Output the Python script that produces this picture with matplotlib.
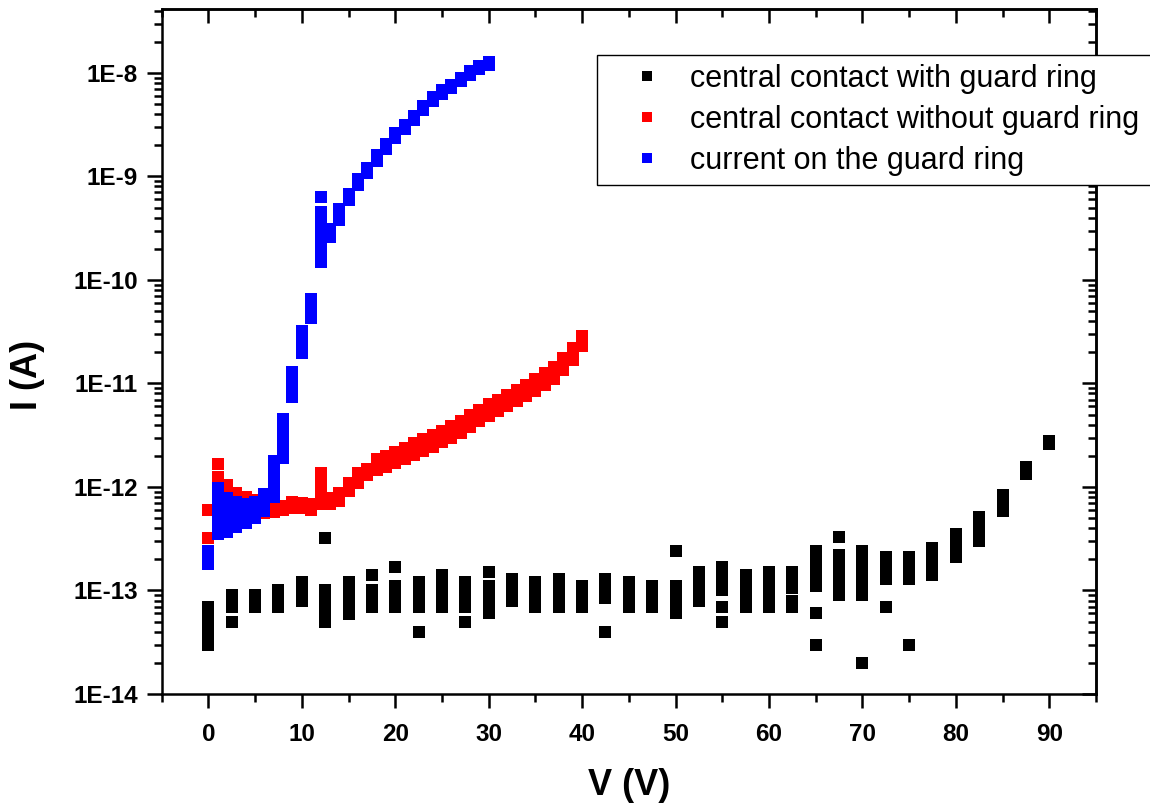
import numpy as np
import matplotlib
matplotlib.use("Agg")
import matplotlib.pyplot as plt
from matplotlib.ticker import FixedLocator, FuncFormatter, LogLocator, NullFormatter

# ---------------- data ----------------
black_v = [0, 2.5, 5, 7.5, 10, 12.5, 15, 17.5, 20, 22.5, 25, 27.5, 30, 32.5, 35, 37.5,
           40, 42.5, 45, 47.5, 50, 52.5, 55, 57.5, 60, 62.5, 65, 67.5, 70, 72.5, 75,
           77.5, 80, 82.5, 85, 87.5, 90]
black_i = [
    [7.0e-14, 6.0e-14, 5.0e-14, 4.2e-14, 3.5e-14, 3.0e-14],
    [9.0e-14, 8.0e-14, 7.0e-14, 5.0e-14],
    [9.0e-14, 8.0e-14, 7.0e-14],
    [1.0e-13, 8.5e-14, 7.0e-14],
    [1.2e-13, 1.05e-13, 9.0e-14, 8.0e-14],
    [3.2e-13, 1.0e-13, 8.5e-14, 7.0e-14, 6.0e-14, 5.0e-14],
    [1.2e-13, 1.0e-13, 8.5e-14, 7.0e-14, 5.9e-14],
    [1.4e-13, 1.0e-13, 8.5e-14, 7.0e-14],
    [1.7e-13, 1.1e-13, 9.0e-14, 7.0e-14],
    [1.2e-13, 1.0e-13, 8.5e-14, 7.0e-14, 4.0e-14],
    [1.4e-13, 1.15e-13, 9.5e-14, 8.0e-14, 7.0e-14],
    [1.2e-13, 1.0e-13, 8.5e-14, 7.0e-14, 5.0e-14],
    [1.5e-13, 1.1e-13, 9.0e-14, 7.5e-14, 6.0e-14],
    [1.3e-13, 1.1e-13, 9.2e-14, 8.0e-14],
    [1.2e-13, 1.0e-13, 8.5e-14, 7.0e-14],
    [1.3e-13, 1.05e-13, 8.5e-14, 7.0e-14],
    [1.1e-13, 9.5e-14, 8.0e-14, 7.0e-14],
    [1.3e-13, 1.1e-13, 9.5e-14, 8.5e-14, 4.0e-14],
    [1.2e-13, 1.0e-13, 8.5e-14, 7.0e-14],
    [1.1e-13, 9.5e-14, 8.0e-14, 7.0e-14],
    [2.4e-13, 1.1e-13, 9.0e-14, 7.5e-14, 6.0e-14],
    [1.5e-13, 1.25e-13, 1.05e-13, 9.0e-14, 8.0e-14],
    [1.7e-13, 1.4e-13, 1.15e-13, 1.0e-13, 7.0e-14, 5.0e-14],
    [1.4e-13, 1.15e-13, 9.5e-14, 8.0e-14, 7.0e-14],
    [1.5e-13, 1.25e-13, 1.0e-13, 8.5e-14, 7.0e-14],
    [1.5e-13, 1.25e-13, 1.05e-13, 8.0e-14, 7.0e-14],
    [2.4e-13, 2.0e-13, 1.65e-13, 1.35e-13, 1.1e-13, 6.0e-14, 3.0e-14],
    [3.3e-13, 2.2e-13, 1.8e-13, 1.5e-13, 1.25e-13, 1.05e-13, 9.0e-14],
    [2.4e-13, 2.0e-13, 1.65e-13, 1.35e-13, 1.1e-13, 9.0e-14, 2.0e-14],
    [2.1e-13, 1.8e-13, 1.5e-13, 1.3e-13, 7.0e-14],
    [2.1e-13, 1.8e-13, 1.5e-13, 1.3e-13, 3.0e-14],
    [2.6e-13, 2.1e-13, 1.7e-13, 1.4e-13],
    [3.5e-13, 2.9e-13, 2.5e-13, 2.1e-13],
    [5.1e-13, 4.3e-13, 3.6e-13, 3.0e-13],
    [8.3e-13, 7.0e-13, 5.9e-13],
    [1.55e-12, 1.32e-12],
    [2.8e-12, 2.6e-12],
]

red_v = list(range(0, 41))
red_i = [
    [6.0e-13, 3.2e-13],
    [1.65e-12, 1.25e-12, 7.5e-13],
    [1.05e-12, 8.5e-13],
    [8.7e-13, 7.5e-13],
    [8.0e-13, 7.0e-13],
    [7.5e-13, 6.5e-13],
    [6.5e-13, 5.6e-13],
    [6.3e-13, 5.7e-13],
    [6.6e-13, 6.0e-13],
    [7.2e-13, 6.3e-13],
    [7.0e-13, 6.2e-13],
    [6.8e-13, 6.0e-13],
    [1.35e-12, 1.1e-12, 9.0e-13, 7.5e-13, 6.8e-13],
    [7.9e-13, 6.9e-13],
    [8.7e-13, 7.3e-13],
    [1.1e-12, 9.1e-13],
    [1.35e-12, 1.1e-12],
    [1.5e-12, 1.3e-12],
    [1.85e-12, 1.45e-12],
    [2.0e-12, 1.55e-12],
    [2.2e-12, 1.7e-12],
    [2.4e-12, 1.85e-12],
    [2.65e-12, 2.05e-12],
    [2.9e-12, 2.25e-12],
    [3.2e-12, 2.45e-12],
    [3.5e-12, 2.7e-12],
    [3.9e-12, 3.0e-12],
    [4.3e-12, 3.3e-12],
    [5.0e-12, 3.8e-12],
    [5.6e-12, 4.3e-12],
    [6.3e-12, 4.8e-12],
    [7.0e-12, 5.4e-12],
    [7.8e-12, 6.0e-12],
    [8.7e-12, 6.7e-12],
    [9.7e-12, 7.5e-12],
    [1.1e-11, 8.5e-12],
    [1.25e-11, 9.6e-12],
    [1.45e-11, 1.1e-11],
    [1.75e-11, 1.35e-11],
    [2.2e-11, 1.7e-11],
    [2.9e-11, 2.3e-11],
]

blue_v = list(range(0, 31))
blue_i = [
    [2.4e-13, 2.0e-13, 1.8e-13],
    [9.8e-13, 8.2e-13, 6.8e-13, 5.6e-13, 4.7e-13, 3.9e-13, 3.5e-13],
    [7.9e-13, 6.6e-13, 5.5e-13, 4.6e-13, 3.9e-13, 3.7e-13],
    [7.1e-13, 5.9e-13, 5.0e-13, 4.1e-13],
    [6.9e-13, 5.8e-13, 4.9e-13, 4.5e-13],
    [7.1e-13, 6.0e-13, 5.0e-13],
    [8.5e-13, 7.2e-13, 6.0e-13, 5.8e-13],
    [1.8e-12, 1.5e-12, 1.25e-12, 1.05e-12, 8.8e-13, 8.0e-13],
    [4.5e-12, 3.7e-12, 3.1e-12, 2.6e-12, 2.2e-12, 1.9e-12],
    [1.3e-11, 1.08e-11, 9.0e-12, 7.4e-12],
    [3.2e-11, 2.65e-11, 2.2e-11, 1.95e-11],
    [6.5e-11, 5.5e-11, 4.6e-11, 4.3e-11],
    [6.3e-10, 4.5e-10, 3.7e-10, 3.1e-10, 2.6e-10, 2.15e-10, 1.8e-10, 1.5e-10],
    [3.1e-10, 2.6e-10],
    [4.8e-10, 3.8e-10],
    [6.8e-10, 5.9e-10],
    [9.5e-10, 8.3e-10],
    [1.22e-9, 1.08e-9],
    [1.6e-9, 1.4e-9],
    [2.05e-9, 1.85e-9],
    [2.6e-9, 2.35e-9],
    [3.15e-9, 2.85e-9],
    [3.85e-9, 3.5e-9],
    [4.8e-9, 4.35e-9],
    [5.8e-9, 5.3e-9],
    [6.9e-9, 6.3e-9],
    [7.7e-9, 7.1e-9],
    [9.0e-9, 8.3e-9],
    [1.04e-8, 9.6e-9],
    [1.16e-8, 1.08e-8],
    [1.27e-8, 1.19e-8],
]

series_labels = ["central contact with guard ring",
                 "central contact without guard ring",
                 "current on the guard ring"]
series_colors = ["#000000", "#ff0000", "#0000ff"]
x_ticks = [0, 10, 20, 30, 40, 50, 60, 70, 80, 90]

# ---------------- plot ----------------
plt.rcParams["font.family"] = ["Liberation Sans", "DejaVu Sans"]

fig = plt.figure(figsize=(11.5, 8.08), dpi=100)
ax = fig.add_axes([0.1406, 0.1411, 0.8124, 0.8478])


def flatten(vs, ii):
    xs, ys = [], []
    for v, lst in zip(vs, ii):
        for val in lst:
            xs.append(v)
            ys.append(val)
    return xs, ys


for (vs, ii), lab, col in zip([(black_v, black_i), (red_v, red_i), (blue_v, blue_i)],
                              series_labels, series_colors):
    xs, ys = flatten(vs, ii)
    ax.plot(xs, ys, linestyle="none", marker="s", markersize=8.6,
            markerfacecolor=col, markeredgewidth=0, color=col, label=lab)

ax.set_yscale("log")
ax.set_xlim(-5, 95)
ax.set_ylim(1e-14, 4.15e-8)

LW = 1.8
minor_x = [-5] + [x + 5 for x in x_ticks]
ax.xaxis.set_major_locator(FixedLocator(x_ticks))
ax.xaxis.set_minor_locator(FixedLocator(minor_x))
ax.yaxis.set_major_locator(LogLocator(base=10, numticks=20))
ax.yaxis.set_minor_locator(LogLocator(base=10, subs=np.arange(2, 10), numticks=20))
ax.yaxis.set_minor_formatter(NullFormatter())
ax.yaxis.set_major_formatter(FuncFormatter(lambda y, p: "1E%d" % int(round(np.log10(y)))))

for sp in ax.spines.values():
    sp.set_linewidth(LW)

ax.tick_params(axis="x", which="major", direction="out", length=10, width=LW,
               labelsize=17.5, pad=11)
ax.tick_params(axis="y", which="major", direction="out", length=11, width=LW,
               labelsize=17.5, pad=6)
ax.tick_params(which="minor", direction="out", length=5.5, width=LW)
ax.tick_params(which="both", top=False, right=False)

# mirrored inward ticks on top and right
axt = ax.secondary_xaxis("top")
axt.xaxis.set_major_locator(FixedLocator(x_ticks))
axt.xaxis.set_minor_locator(FixedLocator(minor_x))
axt.tick_params(which="major", direction="in", length=10, width=LW, labeltop=False)
axt.tick_params(which="minor", direction="in", length=5.5, width=LW)
axt.spines["top"].set_linewidth(LW)

axr = ax.secondary_yaxis("right")
axr.yaxis.set_major_locator(LogLocator(base=10, numticks=20))
axr.yaxis.set_minor_locator(LogLocator(base=10, subs=np.arange(2, 10), numticks=20))
axr.yaxis.set_minor_formatter(NullFormatter())
axr.tick_params(which="major", direction="in", length=10, width=LW, labelright=False)
axr.tick_params(which="minor", direction="in", length=5.5, width=LW)
axr.spines["right"].set_linewidth(LW)

for lbl in ax.get_xticklabels() + ax.get_yticklabels():
    lbl.set_fontweight("bold")

ax.set_xlabel("V (V)", fontsize=26, fontweight="bold", labelpad=16)
ax.set_ylabel("I (A)", fontsize=26, fontweight="bold")
ax.yaxis.set_label_coords(-0.125, 0.466)

# legend box runs past the right edge of the figure, as in the original
leg = fig.legend(loc="upper left",
                 bbox_to_anchor=(597 / 1150, 1 - 54.5 / 808, (1170 - 597) / 1150, 0),
                 mode="expand",
                 bbox_transform=fig.transFigure, frameon=True, fancybox=False,
                 edgecolor="black", facecolor="white", framealpha=1.0, fontsize=22,
                 handlelength=2.7, handletextpad=0.05, borderpad=0.3,
                 labelspacing=0.36, borderaxespad=0)
leg.set_zorder(10)
leg.get_frame().set_linewidth(1.0)
for h in leg.legend_handles:
    h.set_markersize(7.5)

fig.savefig("out.png", dpi=100)
